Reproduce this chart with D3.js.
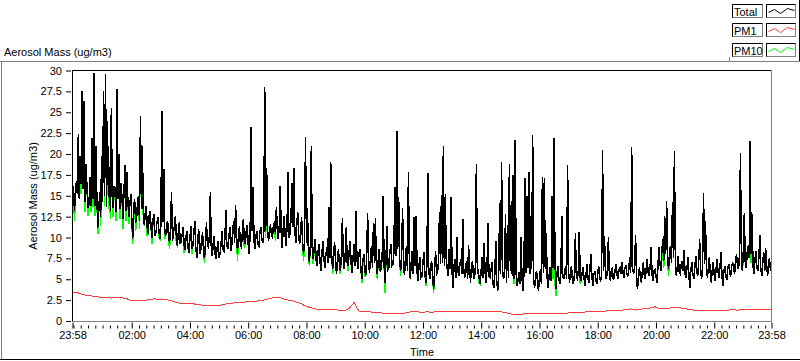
<!DOCTYPE html>
<html><head><meta charset="utf-8">
<script src="https://cdn.jsdelivr.net/npm/d3@7"></script>
<style>
body{margin:0;background:#fff;}
svg text{font-family:"Liberation Sans",Arial,sans-serif;font-size:11px;fill:#000;}
</style>
</head><body>
<svg id="chart" width="800" height="361"></svg>
<script>
// ---------- data ----------
const seriesNames = ["Total", "PM1", "PM10"];
const seriesColors = ["#000000", "#ff3c3c", "#00ff00"];
const yTicks = [0, 2.5, 5, 7.5, 10, 12.5, 15, 17.5, 20, 22.5, 25, 27.5, 30];
const yTickLabels = ["0", "2.5", "5", "7.5", "10", "12.5", "15", "17.5", "20", "22.5", "25", "27.5", "30"];
const yTitle = "Aerosol Mass (ug/m3)";
const xTitle = "Time";
const startTime = new Date(2000, 0, 1, 23, 58);
const durationHours = 24;
const totalStepMinutes = 2;   // Total and PM10 sampled every 2 min
const pm1StepMinutes = 10;    // PM1 sampled every 10 min

const total = [
14.5,16.2,13.2,14.8,16.8,15.2,22.4,14.6,19.8,16.4,27.5,15.8,26.3,14.2,18.8,15.6,13.5,14.0,17.2,13.8,
21.9,14.6,29.7,13.8,21,15.4,11.2,13.0,15.5,12.4,19.8,14.2,27.5,15.0,29.6,13.6,23.9,14.8,18.5,13.2,
25.5,14.4,13.5,16.2,15.8,13.0,27.8,14.6,20,13.4,16.5,14.8,12.2,15.4,18.7,13.2,17.9,14.6,12.5,13.8,
15.2,12.4,9.8,13.6,14.6,11.8,12.2,14.2,15.0,12.0,24.6,13.4,21,12.6,11.5,13.0,13.8,11.2,10.4,12.6,
13.2,11.0,10.0,12.2,12.8,10.2,10.6,11.8,12.4,10.8,9.8,11.4,25.2,11.8,18.2,10.6,10.2,11.6,12.0,9.8,
9.4,11.2,15.5,9.6,10.5,11.4,12.6,10.0,9.0,10.6,11.8,9.2,9.6,10.4,11.2,9.0,8.5,10.2,10.8,8.8,
8.2,10.0,11.4,8.6,9.0,10.4,12.0,8.8,7.6,9.6,11.0,8.0,8.4,9.8,10.6,8.2,7.5,9.4,11.8,9.0,
8.8,10.2,15.4,8.4,7.8,9.4,10.2,8.0,7.4,8.8,9.6,7.6,8.0,9.2,10.8,8.6,8.4,10.0,13.3,9.0,
8.6,10.0,11.2,8.4,9.0,10.8,12.0,9.4,13.9,10.2,8.2,10.4,11.4,9.0,8.8,10.6,12.2,9.6,9.2,10.8,
11.5,9.2,8.0,10.4,23.2,10.8,16,9.6,8.6,10.2,10.8,9.2,9.0,10.6,11.2,9.8,9.4,10.4,28,10.8,
18.3,10.6,9.6,11.2,11.4,10.2,10.0,11.6,11.8,10.4,13.7,10.8,9.8,11.4,16.2,10.6,8.8,11.0,12.6,10.2,
9.0,11.4,17.9,10.0,10.4,12.0,16.5,11.2,18.3,10.8,9.4,11.6,13.0,10.2,9.2,11.0,12.4,9.2,8.0,9.6,
22,9.4,13.5,8.2,7.0,9.0,20.9,8.4,7.4,8.8,9.8,7.2,6.6,8.4,9.2,7.0,6.0,8.2,9.6,7.4,
6.4,8.0,8.8,7.0,13.6,7.6,19.1,7.8,6.2,8.4,9.4,7.0,5.6,7.6,8.6,6.6,6.0,8.0,12.3,7.2,
6.2,8.2,11.2,7.0,6.6,8.4,9.6,6.8,5.8,7.6,9.2,6.6,13.2,7.4,6.2,8.0,8.6,6.4,5.0,7.2,
8.0,6.2,5.4,7.6,12.9,6.8,5.8,7.8,9.0,6.4,11.7,7.0,12.3,6.6,5.6,7.4,8.6,6.0,6.2,7.8,
15.0,6.6,4.6,7.8,11.4,6.2,6.4,8.4,9.2,6.6,6.8,8.2,16.1,7.8,22.8,8.6,14.8,7.2,6.0,8.0,
13.5,6.4,5.5,7.6,9.0,6.0,17.9,6.8,5.0,7.2,8.4,5.6,12.5,6.6,12.6,5.8,4.8,6.8,7.6,5.2,
5.4,7.0,8.2,5.6,4.6,6.6,17.7,6.0,5.0,6.8,7.0,5.2,3.8,6.4,8.4,5.6,5.8,7.2,13.0,6.8,
15.1,7.0,21,6.6,15.2,7.4,6.2,5.4,8.6,6.2,14.8,5.8,4.0,6.6,7.4,5.2,10.1,6.0,5.4,6.8,
7.4,5.6,12.2,6.2,5.2,6.8,7.0,5.0,9.1,6.4,4.6,6.8,7.2,5.4,5.0,6.6,18.8,5.8,6.0,5.0,
4.4,6.2,7.6,5.2,9.3,5.8,4.6,6.4,11.7,5.4,5.2,6.0,7.0,4.6,4.0,5.6,9.6,4.8,3.6,5.4,
14.1,5.6,19,6.0,5.0,5.8,12.8,4.6,11.5,5.2,18.8,6.0,14.4,5.4,17.5,5.0,21.7,5.6,4.2,5.0,
5.8,4.4,10.1,5.2,3.6,5.6,17.1,5.8,15,6.4,17.9,5.6,12.6,6.2,22.3,5.0,4.0,5.4,6.0,4.6,
3.6,5.2,6.2,4.4,17.2,5.8,17.1,6.2,10.5,5.0,4.0,5.6,6.4,4.8,15,6.4,21.9,7.0,3.8,5.6,
6.6,5.0,4.4,5.8,12.6,5.4,5.0,6.2,6.4,5.0,18.7,5.8,4.6,6.0,6.6,4.8,4.4,5.6,10.5,5.2,
5.0,6.0,10.7,5.2,4.8,5.8,6.4,5.0,4.2,5.6,6.8,5.0,4.6,6.2,8.0,5.4,4.2,5.6,6.0,5.0,
4.4,5.8,6.6,5.0,4.8,5.6,20.5,6.0,10.2,5.4,5.0,6.2,10.0,5.6,4.8,6.0,6.4,5.0,5.2,6.2,
6.8,5.4,5.0,6.2,6.4,5.6,7.1,5.8,5.2,6.4,6.6,5.6,5.4,6.2,7.6,5.8,20.8,6.2,5.6,6.6,
10.3,5.0,3.8,5.6,6.4,5.2,4.6,6.0,7.0,5.4,5.0,6.4,7.4,5.8,5.4,6.6,8.9,5.6,4.8,6.0,
6.2,5.4,4.6,6.4,8.8,7.0,6.0,8.2,9.8,7.2,12.6,8.0,14.4,7.4,6.2,8.4,9.0,7.0,14.3,7.6,
20.4,6.8,5.4,6.6,7.8,5.8,5.6,6.8,7.2,6.0,8.5,5.6,5.2,6.4,7.6,5.4,4.0,6.2,7.0,5.6,
5.0,6.4,7.8,5.8,5.4,7.0,9.8,6.0,5.0,6.6,15.3,6.8,12.0,6.2,5.2,6.4,7.6,5.6,4.6,6.2,
7.0,5.6,4.8,6.4,7.4,5.8,5.2,6.6,8.3,5.4,4.2,6.0,6.6,5.2,5.0,6.4,6.8,5.6,5.4,6.6,
7.0,6.4,5.6,7.4,8.0,6.6,6.2,7.8,20.1,7.2,6.0,8.4,12.9,7.0,6.4,8.2,9.0,7.6,21.5,8.0,
12.8,6.6,5.6,7.4,8.4,6.4,6.0,7.6,10.3,6.2,5.4,7.0,8.2,6.0,8.7,6.8,5.4,7.2,7.4,6.0,6.6
];

const pm10 = [
13.6,16.2,12.0,14.8,16.8,15.2,22.4,14.6,19.8,15.2,27.5,15.8,26.3,13.0,18.8,15.6,12.6,14.0,17.2,13.0,
21.9,13.6,29.7,12.6,21,15.4,10.4,13.0,15.5,11.4,19.8,14.2,27.5,13.8,29.6,13.6,23.9,13.4,18.5,12.2,
25.5,14.4,12.4,16.2,15.8,12.0,27.8,14.6,20,12.2,16.5,14.8,11.0,15.4,18.7,12.0,17.9,14.6,11.6,13.8,
15.2,12.4,9.2,13.6,14.6,10.8,12.2,14.2,15.0,11.0,24.6,13.4,21,11.6,11.5,13.0,13.8,10.2,10.4,12.6,
13.2,11.0,9.2,12.2,12.8,10.2,10.6,11.8,12.4,10.0,9.8,11.4,25.2,11.8,18.2,9.8,10.2,11.6,12.0,9.8,
8.6,11.2,15.5,9.6,10.5,11.4,12.6,9.2,9.0,10.6,11.8,9.2,9.6,10.4,11.2,8.2,8.5,10.2,10.8,8.8,
8.2,10.0,11.4,8.0,9.0,10.4,12.0,8.8,7.6,9.6,11.0,8.0,8.4,9.8,10.6,8.2,7.0,9.4,11.8,9.0,
8.8,10.2,15.4,8.4,7.8,9.4,10.2,8.0,7.4,8.8,9.6,7.6,8.0,9.2,10.8,8.6,8.4,10.0,13.3,9.0,
8.6,10.0,11.2,8.4,9.0,10.8,12.0,9.4,13.9,10.2,7.2,10.4,11.4,9.0,8.8,10.6,12.2,8.8,9.2,10.8,
11.5,9.2,8.0,10.4,23.2,10.8,16,9.6,8.6,10.2,10.8,9.2,9.0,10.6,11.2,9.8,9.4,10.4,28,10.0,
18.3,10.6,9.6,11.2,11.4,10.2,10.0,11.6,11.8,9.6,13.7,10.8,9.8,11.4,16.2,10.6,8.8,11.0,12.6,10.2,
9.0,11.4,17.9,10.0,10.4,12.0,16.5,11.2,18.3,10.8,9.4,11.6,13.0,10.2,9.2,11.0,12.4,9.2,7.2,9.6,
22,9.4,13.5,8.2,6.6,9.0,20.9,8.4,6.8,8.8,9.8,7.2,6.6,8.4,9.2,7.0,6.0,8.2,9.6,7.4,
6.4,8.0,8.8,7.0,13.6,7.6,19.1,7.8,5.6,8.4,9.4,7.0,5.6,7.6,8.6,6.6,5.6,8.0,12.3,7.2,
6.2,8.2,11.2,7.0,6.0,8.4,9.6,6.8,5.8,7.6,9.2,6.6,13.2,7.4,6.2,8.0,8.6,6.4,4.6,7.2,
8.0,5.4,5.4,7.6,12.9,6.8,5.8,7.8,9.0,6.4,11.7,7.0,12.3,6.6,5.0,7.4,8.6,6.0,6.2,7.8,
15.0,6.6,3.4,7.8,11.4,6.2,6.4,8.4,9.2,6.6,6.8,8.2,16.1,7.8,22.8,8.6,14.8,7.2,5.4,8.0,
13.5,6.4,5.5,7.6,9.0,6.0,17.9,6.8,5.0,7.2,8.4,5.6,12.5,6.6,12.6,5.8,4.8,6.8,7.6,5.2,
5.4,7.0,8.2,5.6,4.2,6.6,17.7,6.0,5.0,6.8,7.0,5.2,3.4,6.4,8.4,5.6,5.8,7.2,13.0,6.8,
15.1,7.0,21,6.6,15.2,7.4,6.2,5.4,8.6,6.2,14.8,5.8,4.0,6.6,7.4,5.2,10.1,6.0,5.4,6.8,
7.4,5.6,12.2,6.2,5.2,6.8,7.0,5.0,9.1,6.4,4.6,6.8,7.2,5.4,5.0,6.6,18.8,5.8,6.0,4.6,
4.4,6.2,7.6,5.2,9.3,5.8,4.6,6.4,11.7,5.4,5.2,6.0,7.0,4.6,4.0,5.6,9.6,4.8,3.6,5.4,
14.1,5.6,19,6.0,5.0,5.8,12.8,4.6,11.5,5.2,18.8,6.0,14.4,5.4,17.5,4.4,21.7,5.6,4.2,5.0,
5.8,4.4,10.1,5.2,3.6,5.6,17.1,5.8,15,6.4,17.9,5.6,12.6,6.2,22.3,5.0,4.0,5.4,6.0,4.6,
3.6,5.2,6.2,4.4,17.2,5.8,17.1,6.2,10.5,5.0,4.0,5.6,6.4,4.8,15,5.0,21.9,4.6,3.0,5.6,
6.6,5.0,4.4,5.8,12.6,5.4,5.0,6.2,6.4,5.0,18.7,5.8,4.6,6.0,6.6,4.8,4.4,5.6,10.5,5.2,
5.0,6.0,10.7,4.6,4.8,5.8,6.4,5.0,4.2,5.6,6.8,5.0,4.6,6.2,8.0,5.4,4.2,5.6,6.0,5.0,
4.4,5.8,6.6,5.0,4.8,5.6,20.5,6.0,10.2,5.4,5.0,6.2,10.0,5.6,4.8,6.0,6.4,5.0,5.2,6.2,
6.8,5.4,5.0,6.2,6.4,5.6,7.1,5.8,5.2,6.4,6.6,5.6,5.4,6.2,7.6,5.8,20.8,6.2,5.6,6.6,
10.3,5.0,3.8,5.6,6.4,5.2,4.6,6.0,7.0,5.4,5.0,6.4,7.4,5.8,5.4,6.6,8.9,5.6,4.8,6.0,
6.2,5.4,4.6,6.4,8.8,7.0,6.0,7.2,9.8,6.4,12.6,8.0,14.4,7.4,5.4,8.4,9.0,7.0,14.3,7.6,
20.4,6.8,5.4,6.6,7.8,5.8,5.6,6.8,7.2,6.0,8.5,5.6,5.2,6.4,7.6,5.4,4.0,6.2,7.0,5.6,
5.0,6.4,7.8,5.8,5.4,7.0,9.8,6.0,5.0,6.6,15.3,6.8,12.0,6.2,5.2,6.4,7.6,5.6,4.6,6.2,
7.0,5.6,4.8,6.4,7.4,5.8,5.2,6.6,8.3,5.4,4.2,6.0,6.6,5.2,5.0,6.4,6.8,5.6,5.4,6.6,
7.0,6.4,5.6,7.4,8.0,6.6,6.2,7.8,20.1,7.2,6.0,7.4,12.9,7.0,6.4,8.2,9.0,7.6,21.5,7.0,
12.8,6.6,5.6,7.4,8.4,6.4,6.0,7.6,10.3,6.2,5.4,7.0,8.2,6.0,8.7,6.8,5.4,7.2,7.4,6.0,6.6
];

const pm1 = [
3.45,3.4,3.2,3.05,3.0,2.9,2.85,2.85,2.75,2.8,
2.8,2.7,2.5,2.45,2.5,2.45,2.6,2.65,2.55,2.55,
2.5,2.3,2.15,2.1,2.1,2.05,1.95,1.88,1.85,1.9,
1.85,1.95,2.1,2.15,2.2,2.25,2.3,2.3,2.4,2.45,
2.6,2.75,2.85,2.75,2.55,2.45,2.3,2.1,1.8,1.6,
1.45,1.35,1.35,1.35,1.35,1.3,1.25,1.5,2.2,1.2,
1.1,1.1,1.05,1.0,0.95,0.95,0.9,0.9,0.9,1.0,
1.15,1.1,1.05,1.1,1.05,1.1,1.1,1.1,1.1,1.15,
1.1,1.1,1.1,1.1,1.15,1.1,1.1,1.15,1.1,1.05,
0.85,0.8,0.8,0.85,0.9,0.85,0.9,0.9,0.95,0.9,
0.9,0.95,0.95,1.0,1.05,1.05,1.1,1.1,1.15,1.15,
1.2,1.25,1.25,1.3,1.35,1.45,1.3,1.4,1.5,1.55,
1.7,1.45,1.45,1.55,1.65,1.6,1.5,1.4,1.3,1.25,
1.25,1.25,1.25,1.3,1.3,1.3,1.35,1.3,1.35,1.35,
1.4,1.35,1.35,1.35,1.35
];

// ---------- chart ----------
const svg = d3.select("#chart");
const plot = {left: 72.5, right: 771.5, top: 70.5, bottom: 321.5};
const endTime = d3.timeHour.offset(startTime, durationHours);

const x = d3.scaleTime().domain([startTime, endTime]).range([plot.left, plot.right]);
const y = d3.scaleLinear().domain([0, 30]).range([321, 70.5]);

// outer panel
svg.append("line").attr("x1", 0).attr("x2", 800).attr("y1", 61.5).attr("y2", 61.5).attr("stroke", "#808080");
svg.append("line").attr("x1", 1.5).attr("x2", 1.5).attr("y1", 61).attr("y2", 360).attr("stroke", "#808080");
svg.append("line").attr("x1", 0).attr("x2", 800).attr("y1", 359.5).attr("y2", 359.5).attr("stroke", "#000");
svg.append("line").attr("x1", 799.5).attr("x2", 799.5).attr("y1", 0).attr("y2", 61).attr("stroke", "#000");
svg.append("line").attr("x1", 729.5).attr("x2", 729.5).attr("y1", 57).attr("y2", 61).attr("stroke", "#808080");

// title
svg.append("text").attr("x", 4).attr("y", 56).text(yTitle);

const clip = svg.append("clipPath").attr("id", "clip").append("rect")
  .attr("x", plot.left).attr("y", plot.top).attr("width", plot.right - plot.left).attr("height", plot.bottom - plot.top);

const g = svg.append("g").attr("clip-path", "url(#clip)");
const lineGen = d3.line().x(d => x(d.t)).y(d => y(d.v));
const toPts = (arr, step) => arr.map((v, i) => ({t: d3.timeMinute.offset(startTime, i * step), v}));

g.append("path").datum(toPts(pm10, totalStepMinutes)).attr("d", lineGen)
  .attr("fill", "none").attr("stroke", seriesColors[2]).attr("stroke-width", 1.5).attr("shape-rendering", "crispEdges");
g.append("path").datum(toPts(total, totalStepMinutes)).attr("d", lineGen)
  .attr("fill", "none").attr("stroke", seriesColors[0]).attr("stroke-width", 1.5).attr("shape-rendering", "crispEdges");
g.append("path").datum(toPts(pm1, pm1StepMinutes)).attr("d", lineGen)
  .attr("fill", "none").attr("stroke", seriesColors[1]).attr("stroke-width", 1).attr("shape-rendering", "crispEdges");

// plot frame
svg.append("line").attr("x1", plot.left - 0.5).attr("x2", plot.right).attr("y1", plot.top).attr("y2", plot.top).attr("stroke", "#000");
svg.append("line").attr("x1", plot.left).attr("x2", plot.left).attr("y1", plot.top).attr("y2", plot.bottom).attr("stroke", "#000");
svg.append("line").attr("x1", plot.left).attr("x2", plot.right).attr("y1", plot.bottom).attr("y2", plot.bottom).attr("stroke", "#808080");
svg.append("line").attr("x1", plot.right).attr("x2", plot.right).attr("y1", plot.top).attr("y2", plot.bottom + 0.5).attr("stroke", "#808080");

// y axis
const yAxis = d3.axisLeft(y).tickValues(yTicks).tickSize(5).tickPadding(4)
  .tickFormat((d, i) => yTickLabels[i]);
const yg = svg.append("g").attr("transform", `translate(${plot.left - 1.5},0)`).call(yAxis);
yg.select(".domain").remove();
yg.selectAll("line").attr("stroke", "#000");
yg.selectAll("text").style("font-family", "Liberation Sans, Arial, sans-serif").style("font-size", "11px").attr("fill", "#000");

// x axis minor ticks
const minor = d3.timeMinute.every(15).range(startTime, endTime).filter(d => !(d.getMinutes() === 0 && d.getHours() % 2 === 0 && d.getHours() !== 0));
const xMinor = d3.axisBottom(x).tickValues(minor).tickSize(3).tickFormat("");
const xmg = svg.append("g").attr("transform", `translate(0,${plot.bottom + 4})`).call(xMinor);
xmg.select(".domain").remove();

// x axis major ticks + labels
const fmt = d3.timeFormat("%H:%M");
const major = [startTime, ...d3.timeHour.every(2).range(startTime, endTime).filter(d => d.getHours() !== 0), endTime];
const xMajor = d3.axisBottom(x).tickValues(major).tickSize(6).tickPadding(3).tickFormat(fmt);
const xg = svg.append("g").attr("transform", `translate(0,${plot.bottom + 1})`).call(xMajor);
xg.select(".domain").remove();
xg.selectAll("text").style("font-family", "Liberation Sans, Arial, sans-serif").style("font-size", "11px").attr("fill", "#000");

// axis titles
svg.append("text").attr("x", (plot.left + plot.right) / 2).attr("y", 356).attr("text-anchor", "middle").text(xTitle);
svg.append("text").attr("transform", `translate(37,${(plot.top + plot.bottom) / 2}) rotate(-90)`)
  .attr("text-anchor", "middle").text(yTitle);

// legend
const legendZig = [[0, 8], [6, 5], [12, 9], [19, 4], [26, 6]];
seriesNames.forEach((name, i) => {
  const top = 4 + i * 19.3;
  const lg = svg.append("g").attr("transform", `translate(0,${Math.round(top)})`);
  lg.append("rect").attr("x", 732.5).attr("y", 0.5).attr("width", 30).attr("height", 13).attr("fill", "#fff").attr("stroke", "#808080");
  lg.append("path").attr("d", "M732.5,13.5V0.5H762.5").attr("fill", "none").attr("stroke", "#000");
  lg.append("text").attr("x", 734).attr("y", 11.5).text(name);
  lg.append("rect").attr("x", 766.5).attr("y", 0.5).attr("width", 29).attr("height", 13).attr("fill", "#fff").attr("stroke", "#808080");
  lg.append("path").attr("d", "M766.5,13.5V0.5H795.5").attr("fill", "none").attr("stroke", "#000");
  lg.append("path").attr("d", d3.line()(legendZig.map(p => [768.5 + p[0], p[1] + 0.5])))
    .attr("fill", "none").attr("stroke", seriesColors[i]).attr("stroke-width", 1);
});
</script>
</body></html>
